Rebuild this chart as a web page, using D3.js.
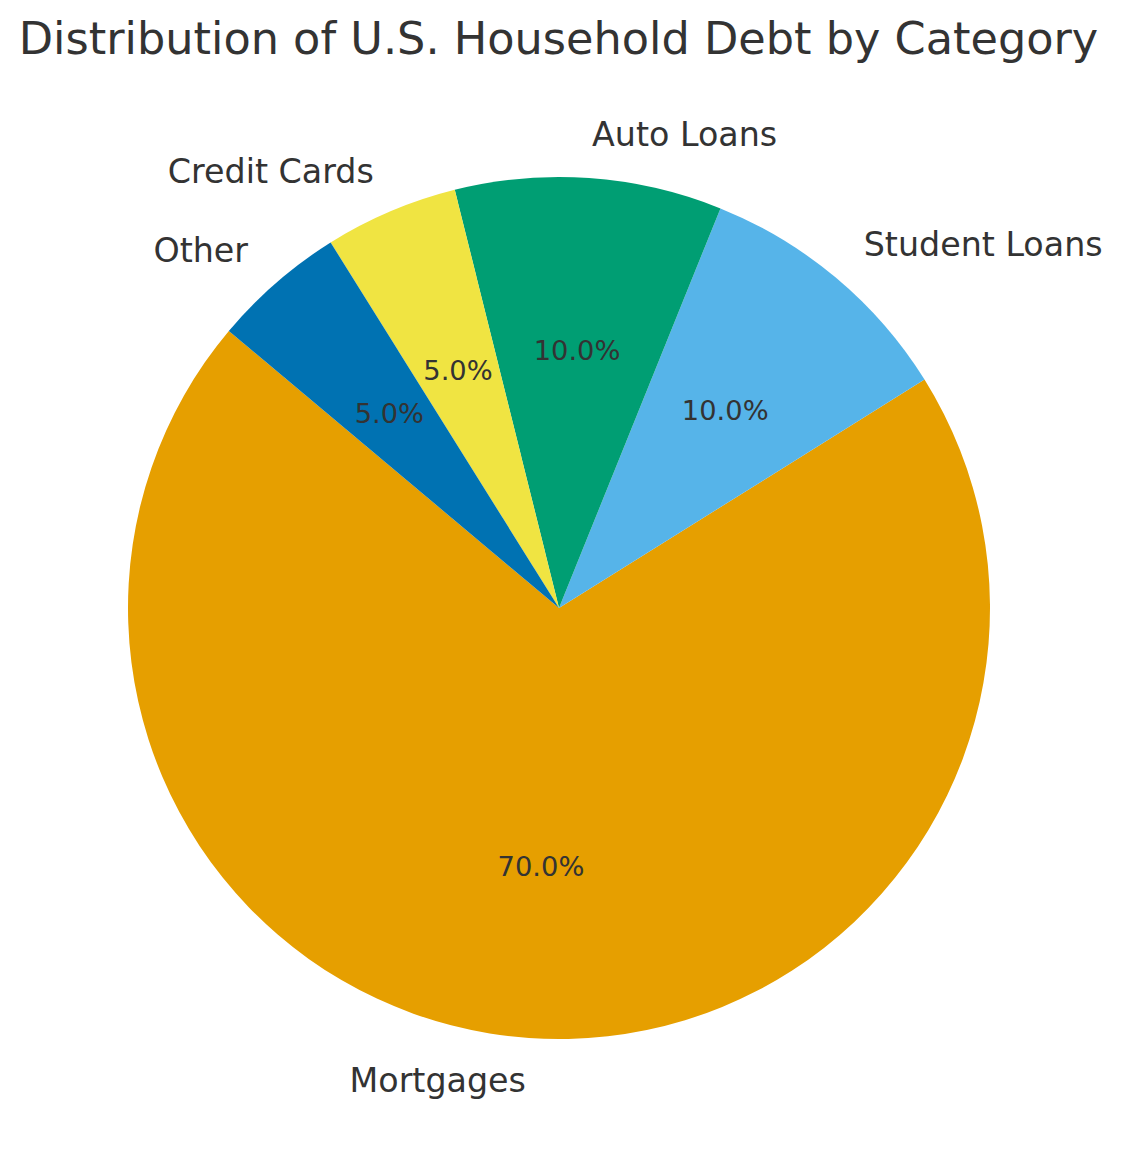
<!DOCTYPE html>
<html>
<head>
<meta charset="utf-8">
<script src="https://cdn.jsdelivr.net/npm/d3@7"></script>
<style>
  html, body { margin: 0; padding: 0; background: #fff; }
  svg { display: block; }
  text { font-family: "DejaVu Sans", sans-serif; fill: #333333; }
</style>
</head>
<body>
<svg id="chart" width="1123" height="1168"></svg>
<script>
const categories = ["Mortgages", "Student Loans", "Auto Loans", "Credit Cards", "Other"];
const values = [70, 10, 10, 5, 5];
const colors = ["#E69F00", "#56B4E9", "#009E73", "#F0E442", "#0072B2"];
const title = "Distribution of U.S. Household Debt by Category";

const W = 1123, H = 1168;
const cx = 559, cy = 608, R = 431;
const startAngleDeg = 140;

const svg = d3.select("#chart");

svg.append("text")
  .attr("x", 558.5)
  .attr("y", 54)
  .attr("text-anchor", "middle")
  .style("font-size", "44.6px")
  .text(title);

const data = categories.map((c, i) => ({ label: c, value: values[i], color: colors[i] }));
const total = d3.sum(values);

// matplotlib-style: counterclockwise from startangle (measured from +x axis)
const pie = d3.pie()
  .sort(null)
  .value(d => d.value)
  .startAngle((90 - startAngleDeg) * Math.PI / 180)
  .endAngle((90 - startAngleDeg - 360) * Math.PI / 180);

const arcs = pie(data);
const arc = d3.arc().innerRadius(0).outerRadius(R);

const g = svg.append("g").attr("transform", `translate(${cx},${cy})`);

g.selectAll("path")
  .data(arcs)
  .join("path")
  .attr("d", arc)
  .attr("fill", d => d.data.color);

function midPoint(d, r) {
  const a = (d.startAngle + d.endAngle) / 2;
  return [r * Math.sin(a), -r * Math.cos(a)];
}

g.selectAll("text.lbl")
  .data(arcs)
  .join("text")
  .attr("class", "lbl")
  .each(function(d) {
    const [x, y] = midPoint(d, R * 1.1);
    d3.select(this)
      .attr("x", x)
      .attr("y", y)
      .attr("dy", "0.34em")
      .attr("text-anchor", x > 0 ? "start" : "end");
  })
  .style("font-size", "33.3px")
  .text(d => d.data.label);

g.selectAll("text.pct")
  .data(arcs)
  .join("text")
  .attr("class", "pct")
  .each(function(d) {
    const [x, y] = midPoint(d, R * 0.6);
    d3.select(this).attr("x", x).attr("y", y).attr("dy", "0.36em");
  })
  .attr("text-anchor", "middle")
  .style("font-size", "27.3px")
  .text(d => (d.data.value / total * 100).toFixed(1) + "%");
</script>
</body>
</html>
